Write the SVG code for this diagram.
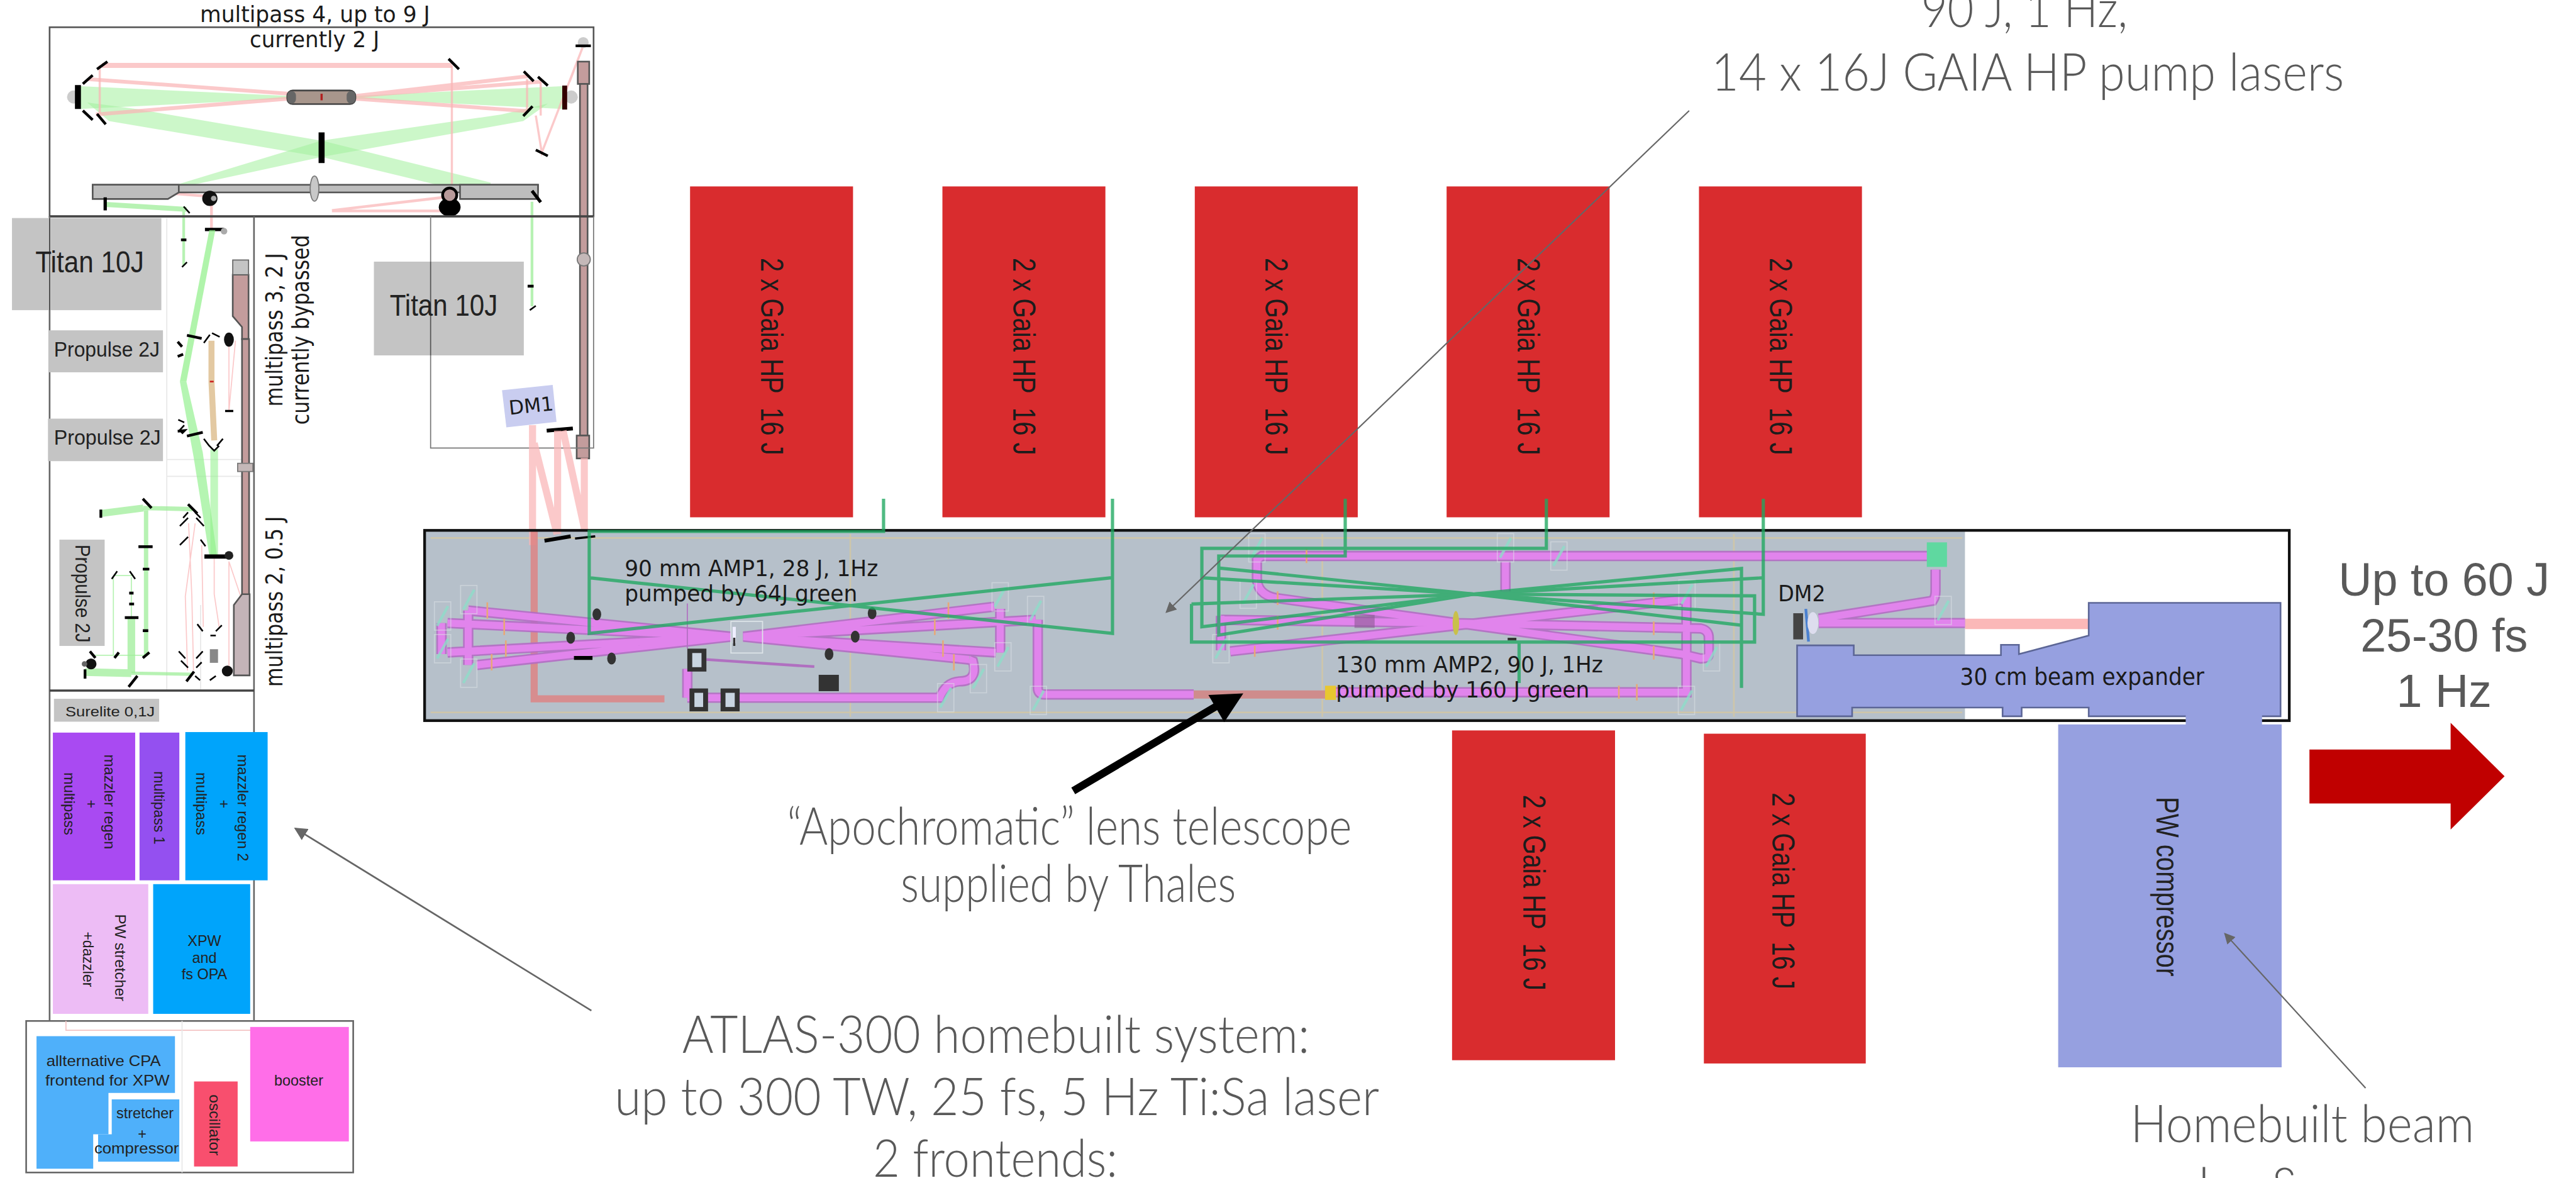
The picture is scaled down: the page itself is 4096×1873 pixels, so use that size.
<svg xmlns="http://www.w3.org/2000/svg" xmlns:xlink="http://www.w3.org/1999/xlink" width="4096" height="1873" viewBox="0 0 4096 1873">
<style>
text{font-family:"Liberation Sans",Arial,sans-serif;fill:#222}
.dj{font-family:"DejaVu Sans",sans-serif;fill:#1a1a1a}
.note{font-family:Lato,"Liberation Sans",sans-serif;font-weight:300;fill:#595959;font-size:95px;text-anchor:middle}
.big{fill:#595959;font-size:85px;text-anchor:middle}
.gaia{font-size:58px;fill:#1c1c1c}
.laser{fill:#d92c2e}
.gy{fill:#c4c4c4}
.bx{fill:none;stroke:#555;stroke-width:3}
.m{stroke:#000;fill:none;stroke-linecap:butt;stroke-width:5}
.pk{stroke:#f9b4b6;fill:none;opacity:.72}
.gr{fill:#a2f09c;opacity:.55}
.gl{stroke:#9fee99;fill:none;opacity:.75}
.pump{stroke:#1fa860;stroke-width:6;fill:none;opacity:.78}
.rail{fill:#c39c9c;stroke:#555;stroke-width:3}
.sil{fill:#bdbdbd;stroke:#555;stroke-width:3}
.dk{fill:#333}
.bl{fill:#96a0e0}
.grid{stroke:#e8e8e8;stroke-width:2;fill:none}
.tan{stroke:#d9c99c;stroke-width:3;fill:none;opacity:.7}
.tick{stroke:#e8a878;stroke-width:3;fill:none}
.mir{fill:none;stroke:#dde4e8;stroke-width:2;opacity:.5}
.teal{stroke:#8fdcc8;stroke-width:5;fill:none;opacity:.8}
</style>
<defs>
<g id="beam" fill="none">
<path d="M810 1143V1200M859 1120V1220M821 1143L1341 1168L821 1197M859 1120L1341 1168L875 1220"/>
<path d="M1824 1113L1364 1168L1827 1197M1900 1137L1364 1168L1778 1210M1835 1117V1197"/>
<path d="M1778 1210L1785 1213Q1795 1250 1760 1250Q1735 1252 1724 1280H1261M1261 1280V1227"/>
<path d="M1904 1137V1262Q1904 1274 1916 1274H2190"/>
<path d="M2431 1270H3094V1100L3086 1100L2257 1195M2240 1130V1193M2240 1137L2671 1143L3120 1153Q3135 1156 3135 1170V1200Q3135 1208 3120 1208L3086 1200L2340 1097Q2306 1090 2306 1060V1027L2315 1020H3551"/>
<path d="M2762 1030V1085M3337 1143H3605M3337 1135L3546 1102Q3551 1095 3551 1085V1045"/>
</g>
<g id="mk"><rect x="-15" y="-26" width="30" height="52" class="mir"/><path d="M-10 18L10 -18" class="teal"/></g>
<marker id="ah" markerWidth="8" markerHeight="8" refX="7" refY="4" orient="auto-start-reverse"><path d="M0 0L8 4L0 8z" fill="#666"/></marker>
</defs>
<rect width="4096" height="1873" fill="#fff"/>
<g transform="scale(0.86669)">

<g id="multipass-4">
<path class="gr" d="M147 158L530 176V181L147 200z"/>
<path class="gr" d="M1032 158L650 176V181L1032 200z"/>
<path class="gr" d="M160 188L250 200L590 258L900 335V353L860 353L590 288L200 222z" />
<path class="gr" d="M1005 190L920 210L590 258L320 340V353L290 353L590 288L960 222z"/>
<path class="pk" stroke-width="9" d="M187 120H829"/>
<path class="pk" stroke-width="4" d="M829 120V340M183 120V210M967 145V205M992 150V212M983 212L994 280L1070 84M1070 84L1045 150"/>
<path class="pk" stroke-width="7" d="M161 145L530 172M176 210L528 181M653 176L968 140M653 176L992 150M653 181L968 204"/>
<path class="pk" stroke-width="5" d="M315 355L381 360M609 386L814 362M609 387L814 387M388 366V420"/>
<path class="gl" stroke-width="9" d="M193 375L342 384"/>
<path class="gl" stroke-width="5" d="M337 388V487M976 370V562"/>
<circle cx="135" cy="178" r="12" fill="#ccc"/>
<circle cx="1048" cy="178" r="12" fill="#ccc"/>
<circle cx="1070" cy="78" r="10" fill="#ccc"/>
<path class="m" d="M197 113L178 127M170 138L152 154M152 203L170 220M178 209L194 228M823 108L842 127M961 131L979 149M987 141L1005 157M977 195L960 213M983 275L1005 286M1056 84H1084"/>
<path class="m" style="stroke-width:11" d="M143 156V200M590 243V299"/>
<path class="m" style="stroke-width:9;stroke:#300" d="M1036 157V201"/>
<rect x="527" y="166" width="125" height="25" rx="10" fill="#a8968c" stroke="#444" stroke-width="3"/>
<rect x="527" y="167" width="16" height="23" rx="8" fill="#666"/><rect x="636" y="167" width="16" height="23" rx="8" fill="#666"/>
<path d="M590 172V184" stroke="#b02020" stroke-width="4"/>
<rect class="sil" x="170" y="339" width="817" height="14"/>
<path class="sil" d="M170 339H328V353L308 365H170z"/>
<path class="sil" d="M844 339H987V365H844z"/>
<ellipse cx="577" cy="346" rx="8" ry="23" fill="#c8c8c8" stroke="#777" stroke-width="2"/>
<path class="m" style="stroke-width:6" d="M193 362V386M976 350L992 371M376 421H411"/>
<path class="m" style="stroke-width:3" d="M337 379L348 391M334 490L343 481M972 569L983 561"/>
<path class="m" d="M332 440H342M968 525H979"/>
<circle cx="411" cy="424" r="6" fill="#aaa"/>
<circle cx="385" cy="364" r="14" fill="#111"/><circle cx="392" cy="364" r="5" fill="#aaa"/>
<ellipse cx="825" cy="380" rx="20" ry="17" fill="#000"/><circle cx="825" cy="358" r="13" fill="#b89a9a" stroke="#000" stroke-width="5"/>
<rect class="rail" x="1060" y="113" width="21" height="41"/>
<path class="rail" d="M1064 154H1078V799H1064z"/>
<circle cx="1071" cy="476" r="12" fill="#c4b8b8" stroke="#777" stroke-width="2"/>
<rect class="rail" x="1058" y="799" width="23" height="42"/>
<path class="m" d="M1003 790L1051 786" style="stroke-width:7"/>
<rect x="91" y="50" width="998" height="347" class="bx"/>
<path d="M91 397H1089" stroke="#444" stroke-width="4"/>
<path d="M790 397V822H1089V397" class="bx" style="stroke:#777;stroke-width:2"/>
<text class="dj" x="367" y="40" font-size="40" textLength="422" lengthAdjust="spacingAndGlyphs">multipass 4, up to 9 J</text>
<text class="dj" x="458" y="86" font-size="40" textLength="238" lengthAdjust="spacingAndGlyphs">currently 2 J</text>
</g>

<g id="multipass-2-3">
<path class="grid" d="M306 400V1267M306 843H444M306 874H444M368 1110V1267"/>
<path d="M384 422L395 422L342 700H330z" fill="#8ef088" opacity=".7"/>
<path d="M330 700H342L372 830L398 1019H384L355 837z" fill="#8ef088" opacity=".65"/>
<path d="M386 824H400V1019H386z" fill="#8ef088" opacity=".55"/>
<path d="M388 625V700L393 808" stroke="#e3c9a2" stroke-width="11" fill="none"/>
<path d="M385 700H392" stroke="#c22" stroke-width="3" fill="none"/>
<path class="pk" stroke-width="2" d="M420 754V625M420 754L432 625M346 960L352 1094L355 1230M358 960L340 1094L344 1230M370 1000L373 1150M393 1025V1090L402 1150M420 1030V1225M420 1030L447 1110"/>
<path class="gl" stroke-width="8" d="M268 936V1202M263 932L353 934"/>
<path class="gl" stroke-width="13" d="M185 942L263 932"/>
<path class="gl" stroke-width="14" d="M241 1133V1235M156 1233L241 1235"/>
<path class="gl" stroke-width="6" d="M241 1235L353 1237"/>
<path class="gl" stroke-width="2" d="M208 1059V1202M241 1059V1133M170 1202H268M210 1056H243"/>
<path class="m" d="M343 615L370 621M326 627L334 636M326 654L336 650M333 795L338 790L326 791M343 800L372 793M262 915L278 932M345 925L362 942M185 935V950M254 1003H280M262 1044H274M262 1157H272M229 1133H254M237 1108H246M237 1088H245M156 1228V1245M236 1260L252 1240M342 1250L356 1232M165 1195L175 1207M210 1207L218 1197M262 1207L274 1197"/>
<path class="m" style="stroke-width:3" d="M327 770L338 775M329 790L338 780M374 805L384 818M398 818L409 805M384 818L393 827L402 818M336 950L345 940M358 940L368 950M330 965L345 950M360 950L374 965M330 1000L345 985M368 990L377 1002M205 1062L215 1048M238 1048L248 1062M362 1145L372 1158M396 1158L407 1147M386 1166H396M328 1195L340 1208M360 1208L372 1195M332 1212L345 1225M360 1225L370 1215M358 1240L367 1248M385 1248L396 1240"/>
<path class="m" style="stroke-width:8" d="M375 1021H415"/>
<rect x="385" y="1191" width="15" height="25" fill="#888"/>
<ellipse cx="420" cy="623" rx="9" ry="13" fill="#111"/>
<circle cx="420" cy="1019" r="8" fill="#222"/>
<circle cx="167" cy="1218" r="10" fill="#111"/><circle cx="155" cy="1218" r="5" fill="#666"/>
<circle cx="417" cy="1231" r="10" fill="#111"/>
<path class="m" style="stroke-width:3" d="M374 629L385 614M389 611L403 618"/>
<path class="m" style="stroke-width:4" d="M413 754H428"/>
<path class="rail" d="M427 504H456V622H444V600L427 580z"/>
<rect x="427" y="477" width="29" height="27" fill="#c4c4c4" stroke="#666" stroke-width="2"/>
<rect class="rail" x="444" y="622" width="13" height="470"/>
<rect x="436" y="850" width="28" height="15" fill="#c4b8b8" stroke="#777" stroke-width="2"/>
<path class="sil" style="fill:#c4b4b8" d="M444 1090H458V1239H429V1110z"/>
<path d="M91 397V1873M466 397V1873" stroke="#666" stroke-width="3" fill="none"/>
<path d="M91 1267H466" stroke="#444" stroke-width="4"/>
<text transform="translate(518,746) rotate(-90)" font-size="44" class="dj" textLength="282" lengthAdjust="spacingAndGlyphs">multipass 3, 2 J</text>
<text transform="translate(566,779) rotate(-90)" font-size="44" class="dj" textLength="348" lengthAdjust="spacingAndGlyphs">currently bypassed</text>
<text transform="translate(518,1260) rotate(-90)" font-size="44" class="dj" textLength="313" lengthAdjust="spacingAndGlyphs">multipass 2, 0.5 J</text>
</g>

<g id="titan-1"><rect class="gy" x="22" y="400" width="274" height="169"/><path d="M91 400V569" stroke="#444" stroke-width="2"/><text x="65" y="500" font-size="55" textLength="199" lengthAdjust="spacingAndGlyphs">Titan 10J</text></g>
<g id="titan-2"><rect class="gy" x="686" y="480" width="275" height="172"/><path d="M790 480V652" stroke="#555" stroke-width="2"/><text x="715" y="579" font-size="55" textLength="198" lengthAdjust="spacingAndGlyphs">Titan 10J</text></g>
<g id="propulse-1"><rect class="gy" x="90" y="606" width="209" height="77"/><text x="99" y="654" font-size="38" textLength="194" lengthAdjust="spacingAndGlyphs">Propulse 2J</text></g>
<g id="propulse-2"><rect class="gy" x="88" y="768" width="211" height="78"/><text x="99" y="816" font-size="38" textLength="196" lengthAdjust="spacingAndGlyphs">Propulse 2J</text></g>
<g id="propulse-3"><rect class="gy" x="109" y="990" width="83" height="195"/><text transform="translate(138,999) rotate(90)" font-size="38" textLength="180" lengthAdjust="spacingAndGlyphs">Propulse 2J</text></g>
<g id="surelite"><rect class="gy" x="99" y="1282" width="193" height="42"/><text x="120" y="1314" font-size="26" textLength="164" lengthAdjust="spacingAndGlyphs">Surelite 0,1J</text></g>

<g id="regen-1"><rect x="97" y="1344" width="151" height="271" fill="#a94af2"/>
<text transform="translate(192,1384) rotate(90)" font-size="27" textLength="174" lengthAdjust="spacingAndGlyphs">mazzler regen</text>
<text transform="translate(158,1467) rotate(90)" font-size="27">+</text>
<text transform="translate(118,1417) rotate(90)" font-size="27" textLength="115" lengthAdjust="spacingAndGlyphs">multipass</text></g>
<g id="multipass-1"><rect x="256" y="1344" width="73" height="271" fill="#9450f0"/><text transform="translate(283,1415) rotate(90)" font-size="27" textLength="134" lengthAdjust="spacingAndGlyphs">multipass 1</text></g>
<g id="regen-2"><rect x="340" y="1343" width="151" height="272" fill="#00a4fb"/>
<text transform="translate(436,1384) rotate(90)" font-size="27" textLength="196" lengthAdjust="spacingAndGlyphs">mazzler regen 2</text>
<text transform="translate(402,1467) rotate(90)" font-size="27">+</text>
<text transform="translate(360,1417) rotate(90)" font-size="27" textLength="115" lengthAdjust="spacingAndGlyphs">multipass</text></g>
<g id="stretcher"><rect x="97" y="1622" width="175" height="238" fill="#edbcf5"/>
<text transform="translate(211,1677) rotate(90)" font-size="27" textLength="160" lengthAdjust="spacingAndGlyphs">PW stretcher</text>
<text transform="translate(152,1709) rotate(90)" font-size="27" textLength="102" lengthAdjust="spacingAndGlyphs">+dazzler</text></g>
<g id="xpw"><rect x="281" y="1622" width="178" height="238" fill="#00a4fb"/>
<text x="375" y="1735" font-size="27" text-anchor="middle">XPW</text>
<text x="375" y="1767" font-size="27" text-anchor="middle">and</text>
<text x="375" y="1797" font-size="27" text-anchor="middle">fs OPA</text></g>

<g id="frontend">
<rect x="48" y="1873" width="600" height="278" class="bx" style="stroke:#666"/>
<path d="M121 1873V1890H460" stroke="#f4c4c4" stroke-width="2" fill="none"/><path d="M334 1873V2151" class="grid"/>
<path d="M67 1901H321V2005H199V2081H171V2144H67z" fill="#4fb0fa"/>
<text x="85" y="1956" font-size="27" textLength="210" lengthAdjust="spacingAndGlyphs">allternative CPA</text>
<text x="83" y="1992" font-size="27" textLength="228" lengthAdjust="spacingAndGlyphs">frontend for XPW</text>
<path d="M205 2017H329V2131H180V2081H205z" fill="#4fb0fa"/>
<text x="266" y="2052" font-size="27" text-anchor="middle">stretcher</text>
<text x="261" y="2090" font-size="27" text-anchor="middle">+</text>
<text x="173" y="2116" font-size="27" textLength="155" lengthAdjust="spacingAndGlyphs">compressor</text>
<rect x="356" y="1984" width="80" height="156" fill="#f84f6e"/>
<text transform="translate(384,2008) rotate(90)" font-size="27" textLength="112" lengthAdjust="spacingAndGlyphs">oscillator</text>
<rect x="459" y="1884" width="181" height="210" fill="#ff6ee8"/>
<text x="548" y="1992" font-size="27" text-anchor="middle">booster</text>
</g>

<g id="gaia-top">
<rect class="laser" x="1266" y="342" width="299" height="607"/><rect class="laser" x="1729" y="342" width="299" height="607"/><rect class="laser" x="2192" y="342" width="299" height="607"/><rect class="laser" x="2654" y="342" width="299" height="607"/><rect class="laser" x="3117" y="342" width="299" height="607"/>
<text class="gaia" transform="translate(1396,473) rotate(90)" textLength="362" lengthAdjust="spacingAndGlyphs">2 x Gaia HP&#160;&#160;16 J</text>
<text class="gaia" transform="translate(1859,473) rotate(90)" textLength="362" lengthAdjust="spacingAndGlyphs">2 x Gaia HP&#160;&#160;16 J</text>
<text class="gaia" transform="translate(2322,473) rotate(90)" textLength="362" lengthAdjust="spacingAndGlyphs">2 x Gaia HP&#160;&#160;16 J</text>
<text class="gaia" transform="translate(2784,473) rotate(90)" textLength="362" lengthAdjust="spacingAndGlyphs">2 x Gaia HP&#160;&#160;16 J</text>
<text class="gaia" transform="translate(3247,473) rotate(90)" textLength="362" lengthAdjust="spacingAndGlyphs">2 x Gaia HP&#160;&#160;16 J</text>
</g>
<g id="gaia-bottom">
<rect class="laser" x="2664" y="1340" width="299" height="605"/><rect class="laser" x="3126" y="1346" width="297" height="605"/>
<text class="gaia" transform="translate(2794,1458) rotate(90)" textLength="359" lengthAdjust="spacingAndGlyphs">2 x Gaia HP&#160;&#160;16 J</text>
<text class="gaia" transform="translate(3251,1454) rotate(90)" textLength="361" lengthAdjust="spacingAndGlyphs">2 x Gaia HP&#160;&#160;16 J</text>
</g>

<g id="main-table">
<rect x="779" y="975" width="2826" height="345" fill="#b6c0ca"/>
<path class="tan" d="M790 987H3600M790 1307H3600M1560 980V1315M2426 980V1315M3181 980V1315"/>
<path class="pk" stroke-width="13" d="M977 780V1000M980 813L1022 980M1023 790V980M1033 790L1073 973M1072 840V973"/>
<path d="M980 975V1282H1219" stroke="#e07f80" stroke-width="13" fill="none" opacity=".8"/>
<path d="M3605 1144.500H3832" stroke="#fbb8b8" stroke-width="19" fill="none"/>
<g stroke="#b46cc4" stroke-width="19" opacity=".9"><use href="#beam"/></g>
<g stroke="#e184ec" stroke-width="13"><use href="#beam"/></g>
<path d="M1261 1107V1190" stroke="#b070c0" stroke-width="2"/>
<path d="M1296 1210L1494 1223" stroke="#b070c0" stroke-width="5"/>
<path d="M2190 1274H2431" stroke="#cf8c8c" stroke-width="15"/>
<g>
<use href="#mk" x="812" y="1130"/><use href="#mk" x="812" y="1190"/><use href="#mk" x="860" y="1100"/><use href="#mk" x="860" y="1235"/><use href="#mk" x="1835" y="1095"/><use href="#mk" x="1840" y="1205"/><use href="#mk" x="1900" y="1120"/><use href="#mk" x="1795" y="1245"/><use href="#mk" x="1735" y="1280"/><use href="#mk" x="1905" y="1285"/><use href="#mk" x="2306" y="1005"/><use href="#mk" x="2240" y="1190"/><use href="#mk" x="2290" y="1090"/><use href="#mk" x="2762" y="1005"/><use href="#mk" x="2860" y="1020"/><use href="#mk" x="3095" y="1090"/><use href="#mk" x="3140" y="1205"/><use href="#mk" x="3094" y="1285"/><use href="#mk" x="3565" y="1120"/>
</g>
<path class="tick" d="M894 1105V1135M925 1135V1165M928 1175V1205M902 1200V1230M1740 1105V1135M1715 1135V1165M1730 1175V1205M1750 1200V1230M2397 1007V1033M2344 1085V1110M2344 1130V1155M2302 1185V1205M3034 1087V1113M3034 1140V1165M3034 1185V1210M3003 1255V1285M2970 1258V1282"/>
<rect x="1341" y="1140" width="58" height="58" fill="none" stroke="#dde4e8" stroke-width="2"/>
<path d="M1347 1150V1180" stroke="#eef" stroke-width="6"/><path d="M1347 1170V1185" stroke="#333" stroke-width="4"/>
<rect class="dk" x="1261" y="1190" width="35" height="42"/><rect x="1270" y="1198" width="17" height="26" fill="#c8d4e0"/>
<rect class="dk" x="1265" y="1263" width="34" height="42"/><rect x="1274" y="1271" width="16" height="26" fill="#c8d4e0"/>
<rect class="dk" x="1322" y="1263" width="35" height="42"/><rect x="1331" y="1271" width="17" height="26" fill="#c8d4e0"/>
<ellipse class="dk" cx="1095" cy="1127" rx="8" ry="11"/><ellipse class="dk" cx="1047" cy="1170" rx="8" ry="11"/><ellipse class="dk" cx="1122" cy="1208" rx="8" ry="11"/><ellipse class="dk" cx="1600" cy="1125" rx="8" ry="11"/><ellipse class="dk" cx="1569" cy="1168" rx="8" ry="11"/><ellipse class="dk" cx="1521" cy="1200" rx="8" ry="11"/>
<path class="m" style="stroke-width:7" d="M1053 1207H1087M999 992L1047 984"/>
<path class="m" style="stroke-width:4" d="M1055 988L1092 984"/>
<rect class="dk" x="1502" y="1238" width="37" height="30"/>
<rect x="2485" y="1128" width="37" height="24" fill="#8a5a92" opacity=".6"/>
<ellipse cx="2671" cy="1143" rx="6" ry="22" fill="#c9c04a"/>
<rect x="2766" y="1170" width="16" height="5" fill="#333"/>
<rect x="2431" y="1258" width="20" height="26" fill="#e8c730"/>
<rect x="3535" y="995" width="37" height="45" fill="#5fd8a0"/>
<rect x="3290" y="1125" width="18" height="48" fill="#444"/>
<path d="M3313 1117L3318 1177" stroke="#4a80d0" stroke-width="5"/>
<ellipse cx="3326" cy="1143" rx="10" ry="20" fill="#dde"/>
<rect x="779" y="973" width="3421" height="349" fill="none" stroke="#111" stroke-width="5"/>
</g>

<g id="beam-expander">
<path class="bl" stroke="#5c6696" stroke-width="3" d="M3297 1184H3401V1202H3671V1183H3704V1200L3832 1166V1106H4184V1314H3832V1298H3709V1314H3674V1298H3398V1314H3297z"/>
<text class="dj" x="3596" y="1257" font-size="42" textLength="448" lengthAdjust="spacingAndGlyphs">30 cm beam expander</text>
</g>
<g id="pw-compressor">
<rect class="bl" x="3776" y="1329" width="410" height="629"/>
<rect class="bl" x="4010" y="1308" width="140" height="22"/>
<text transform="translate(3956,1462) rotate(90)" font-size="58" textLength="329" lengthAdjust="spacingAndGlyphs" fill="#111">PW compressor</text>
</g>

<g id="connectors">
<g class="pump">
<path d="M1621 915V975H1081V1162L2039 1060M1081 1060L2041 1162V915"/>
<path d="M2468 915V1020H2236V1165L2704 1090L3195 1043V1262M2236 1042L2704 1090L3195 1147"/>
<path d="M2837 915V1006H2205V1150L2704 1090L3235 1060M2205 1060L2704 1090L3235 1127V915"/>
<path d="M2787 1253V1178M2186 1108V1178H3219V1093L2704 1090L2186 1108"/>
</g>
<path d="M3099 203L2140 1123" stroke="#666" stroke-width="2.500" fill="none" marker-end="url(#ah)"/>
<path d="M1085 1854L542 1520" stroke="#666" stroke-width="3" fill="none" marker-end="url(#ah)"/>
<path d="M4340 1996L4082 1713" stroke="#666" stroke-width="2.500" fill="none" marker-end="url(#ah)"/>
<path d="M1969 1451L2236 1293" stroke="#000" stroke-width="14" fill="none"/>
<path d="M2281 1272L2217 1275L2246 1325z" fill="#000"/>
<path d="M4237 1375H4496V1326L4595 1424L4496 1522V1474H4237z" fill="#c00000"/>
</g>

<g id="dm1"><path d="M921 716L1014 706L1021 774L929 784z" fill="#c9cdf0"/>
<text class="dj" transform="translate(935,761) rotate(-6)" font-size="36" textLength="82" lengthAdjust="spacingAndGlyphs">DM1</text></g>
<g id="labels">
<text class="dj" x="1146" y="1057" font-size="40" textLength="465" lengthAdjust="spacingAndGlyphs">90 mm AMP1, 28 J, 1Hz</text>
<text class="dj" x="1146" y="1103" font-size="40" textLength="427" lengthAdjust="spacingAndGlyphs">pumped by 64J green</text>
<text class="dj" x="2451" y="1234" font-size="40" textLength="490" lengthAdjust="spacingAndGlyphs">130 mm AMP2, 90 J, 1Hz</text>
<text class="dj" x="2451" y="1280" font-size="40" textLength="465" lengthAdjust="spacingAndGlyphs">pumped by 160 J green</text>
<text class="dj" x="3262" y="1103" font-size="40" textLength="87" lengthAdjust="spacingAndGlyphs">DM2</text>
<text class="note" x="3714" y="50" textLength="379" lengthAdjust="spacingAndGlyphs">90 J, 1 Hz,</text>
<text class="note" x="3720" y="166" textLength="1161" lengthAdjust="spacingAndGlyphs">14 x 16J GAIA HP pump lasers</text>
<text class="note" x="1962" y="1550" textLength="1036" lengthAdjust="spacingAndGlyphs">“Apochromatic” lens telescope</text>
<text class="note" x="1960" y="1654" textLength="615" lengthAdjust="spacingAndGlyphs">supplied by Thales</text>
<text class="note" x="1827" y="1932" textLength="1151" lengthAdjust="spacingAndGlyphs">ATLAS-300 homebuilt system:</text>
<text class="note" x="1829" y="2046" textLength="1403" lengthAdjust="spacingAndGlyphs">up to 300 TW, 25 fs, 5 Hz Ti:Sa laser</text>
<text class="note" x="1826" y="2159" textLength="449" lengthAdjust="spacingAndGlyphs">2 frontends:</text>
<text class="note" x="4224" y="2095" textLength="631" lengthAdjust="spacingAndGlyphs">Homebuilt beam</text>
<text class="note" x="3757" y="2211" style="text-anchor:start">expander &amp;</text>
<text class="big" x="4484" y="1093">Up to 60 J</text>
<text class="big" x="4484" y="1195">25-30 fs</text>
<text class="big" x="4484" y="1297">1 Hz</text>
</g>
</g>
</svg>
